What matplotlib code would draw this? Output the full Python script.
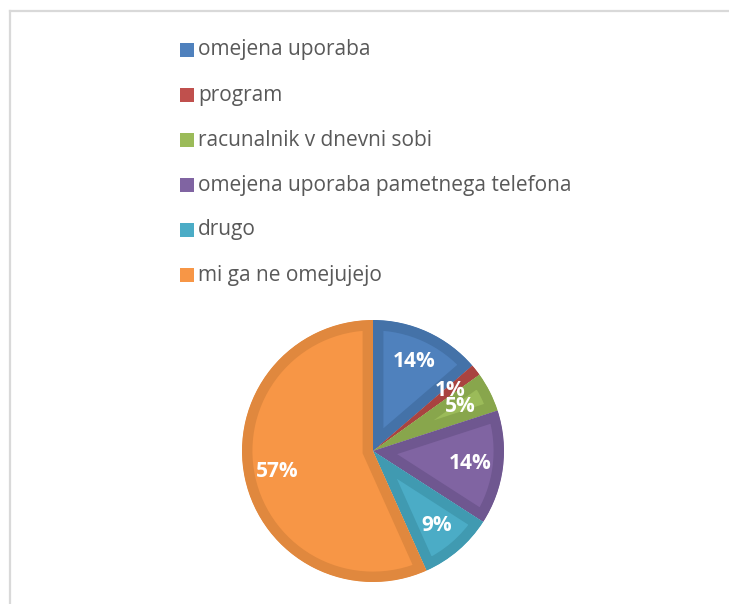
from matplotlib import pyplot as plt
from matplotlib.lines import Line2D
from matplotlib.patches import Rectangle, Wedge

# Data
categories = ["omejena uporaba", "program", "racunalnik v dnevni sobi",
              "omejena uporaba pametnega telefona", "drugo",
              "mi ga ne omejujejo"]
shares = [13.7, 1.4, 4.9, 14.1, 9.2, 56.7]

# Excel style: light fill with a darker inner border
FILL_COLORS = ["#4F81BD", "#C0504D", "#9BBB59", "#8064A2", "#4BACC6", "#F79646"]
EDGE_COLORS = ["#4472A8", "#A94340", "#88A64C", "#6F5790", "#409AB1", "#E0883E"]
TEXT_COLOR = "#595959"
FRAME_COLOR = "#D9D9D9"

W, H = 729, 604
DPI = 100
plt.rcParams['font.family'] = ['Open Sans', 'DejaVu Sans']

fig = plt.figure(figsize=(W / DPI, H / DPI), dpi=DPI)

# Pie centred at (373, 451) px with radius 131 px
cx, cy, r = 373, 451, 131
ax = fig.add_axes([(cx - r) / W, (H - cy - r) / H, 2 * r / W, 2 * r / H])
wedges, _, autotexts = ax.pie(
    shares, colors=FILL_COLORS, startangle=90, counterclock=False,
    autopct='%.0f%%', pctdistance=0.75,
    wedgeprops=dict(linewidth=15, joinstyle='miter'),
    textprops=dict(color='white', fontsize=15, fontweight='bold'))
ax.set_xlim(-1, 1)
ax.set_ylim(-1, 1)
ax.axis('off')
for w, ec in zip(wedges, EDGE_COLORS):
    w.set_edgecolor(ec)
    # keep only the inner half of the edge line (pie turns clipping off)
    clip = Wedge(w.center, w.r, w.theta1, w.theta2, transform=ax.transData)
    w.set_clip_on(True)
    w.set_clip_path(clip)

# Legend drawn by hand, one row every 45 px
sq = 14
for i, (name, col) in enumerate(zip(categories, FILL_COLORS)):
    yc = 50 + 45 * i
    fig.add_artist(Rectangle((180 / W, (H - yc - sq / 2) / H), sq / W, sq / H,
                             transform=fig.transFigure, facecolor=col,
                             edgecolor='none'))
    fig.text(198 / W, (H - yc) / H, name, color=TEXT_COLOR, fontsize=15,
             ha='left', va='center')

# Chart area frame (only left and top edges are visible)
fig.add_artist(Line2D([9.5 / W, 9.5 / W], [0, (H - 11) / H], color=FRAME_COLOR,
                      linewidth=1.6, transform=fig.transFigure))
fig.add_artist(Line2D([9.5 / W, 1], [(H - 11) / H, (H - 11) / H], color=FRAME_COLOR,
                      linewidth=1.6, transform=fig.transFigure))

fig.savefig("out.png", dpi=DPI)
